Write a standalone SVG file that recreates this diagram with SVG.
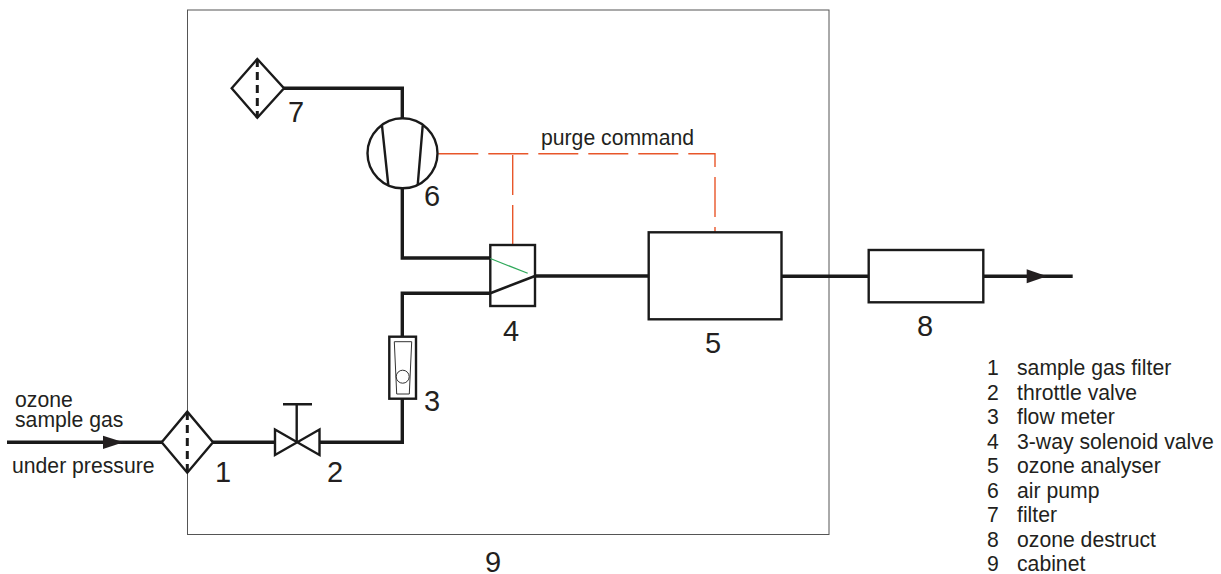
<svg xmlns="http://www.w3.org/2000/svg" width="1221" height="574" viewBox="0 0 1221 574">
<style>
text{font-family:"Liberation Sans",Arial,sans-serif;fill:#231f20}
.s{font-size:21.2px}
.n{font-size:29px}
.l{font-size:21.2px}
.pipe{fill:none;stroke:#1a1a1a;stroke-width:3.4;stroke-linejoin:miter}
.sym{fill:#fff;stroke:#1a1a1a;stroke-width:2.4;stroke-linejoin:miter}
.thin{fill:none;stroke:#333;stroke-width:1}
.cab{fill:none;stroke:#555;stroke-width:1}
.sig{fill:none;stroke:#e8562a;stroke-width:1.4;stroke-dasharray:40 10}
.head{fill:#231f20}
</style>
<g id="cabinet"><rect class="cab" x="187.5" y="10" width="641.5" height="524.5"/><text class="n" x="485" y="572">9</text></g>
<g id="connectors">
<path class="pipe" d="M7 442.3H162"/>
<path class="pipe" d="M213 442.3H276"/>
<path class="pipe" d="M320 442.3H402.3V398"/>
<path class="pipe" d="M402.3 337V293.3H490"/>
<path class="pipe" d="M284 88.3H402.3V118"/>
<path class="pipe" d="M402.3 188V258H490"/>
<path class="pipe" d="M535 276H649"/>
<path class="pipe" d="M781.5 276.3H869"/>
<path class="pipe" d="M983 276.3H1072.7"/>
<path class="sig" d="M438.3 153.7H715V232"/>
<path class="sig" d="M512.7 155V245"/>
<polygon class="head" points="103,435.7 123.5,442.3 103,449"/>
<polygon class="head" points="1026.7,269.3 1047,276.3 1026.7,283.3"/>
</g>
<g id="node1"><polygon class="sym" points="161.7,442.3 187.3,411.7 213,442.3 187.3,472.7"/><path d="M187.3 412V473" fill="none" stroke="#1a1a1a" stroke-width="3" stroke-dasharray="8 5"/><text class="n" x="215" y="482">1</text></g>
<g id="node2"><polygon class="sym" points="275,429.5 319.5,455 319.5,429.5 275,455"/><path class="sym" fill="none" d="M296.7 442.3V404.3M283 404.3H312"/><text class="n" x="327" y="482">2</text></g>
<g id="node3"><rect class="sym" x="389.3" y="336.7" width="26.7" height="62"/><polygon class="thin" points="394.3,341.7 411.7,341.7 409.3,394 396.7,394"/><circle class="thin" cx="402.7" cy="376.7" r="6.5"/><text class="n" x="424" y="411">3</text></g>
<g id="node4"><rect class="sym" stroke-width="2.6" x="490.3" y="245" width="44.7" height="61"/><path d="M490.3 258.5L527.7 273.3" fill="none" stroke="#2fa85a" stroke-width="1.2"/><path d="M490.3 293.3L535 276" fill="none" stroke="#1a1a1a" stroke-width="2.6"/><text class="n" x="503" y="341">4</text></g>
<g id="node5"><rect class="sym" x="648.7" y="232.3" width="132.8" height="87"/><text class="n" x="705" y="353">5</text></g>
<g id="node6"><circle class="sym" cx="402.5" cy="153.3" r="35"/><path class="sym" d="M382 125.7L388.3 185M422.7 125.7L417.7 185"/><text class="n" x="424" y="206">6</text></g>
<g id="node7"><polygon class="sym" points="231.7,88.3 257.3,59 284,88.3 257.3,117.7"/><path d="M257.3 59V118" fill="none" stroke="#1a1a1a" stroke-width="3" stroke-dasharray="8 5"/><text class="n" x="288" y="122">7</text></g>
<g id="node8"><rect class="sym" x="868.7" y="250" width="114.6" height="52.3"/><text class="n" x="917" y="336">8</text></g>
<g id="labels">
<text class="s" x="15" y="407">ozone</text>
<text class="s" x="15" y="426.5">sample gas</text>
<text class="s" x="12" y="473">under pressure</text>
<text class="s" x="541" y="145">purge command</text>
</g>
<g id="legend" class="l">
<text x="987" y="375">1</text><text x="1017" y="375">sample gas filter</text>
<text x="987" y="399.5">2</text><text x="1017" y="399.5">throttle valve</text>
<text x="987" y="424">3</text><text x="1017" y="424">flow meter</text>
<text x="987" y="448.5">4</text><text x="1017" y="448.5">3-way solenoid valve</text>
<text x="987" y="473">5</text><text x="1017" y="473">ozone analyser</text>
<text x="987" y="497.5">6</text><text x="1017" y="497.5">air pump</text>
<text x="987" y="522">7</text><text x="1017" y="522">filter</text>
<text x="987" y="546.5">8</text><text x="1017" y="546.5">ozone destruct</text>
<text x="987" y="571">9</text><text x="1017" y="571">cabinet</text>
</g>
</svg>
